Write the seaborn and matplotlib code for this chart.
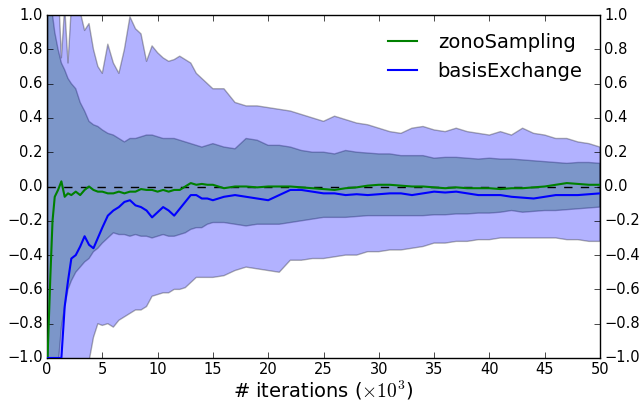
import numpy as np
import pandas as pd
import matplotlib
matplotlib.use("Agg")
import matplotlib.pyplot as plt
import seaborn as sns

# x positions (thousands of iterations)
x = [0.05, 0.3, 0.5, 0.7, 1.0, 1.3, 1.6, 1.9, 2.2, 2.6, 3.0, 3.4, 3.8, 4.2, 4.6,
     5.0, 5.5, 6.0, 6.5, 7.0, 7.5, 8.0, 8.5, 9.0, 9.5, 10.0, 10.5, 11.0, 11.5, 12.0,
     12.5, 13.0, 13.5, 14.0, 14.5, 15.0,
     16, 17, 18, 19, 20, 21, 22, 23, 24, 25, 26, 27, 28, 29, 30, 31, 32, 33, 34, 35,
     36, 37, 38, 39, 40, 41, 42, 43, 44, 45, 46, 47, 48, 49, 50]

zono_mean = [-1.0, -0.53, -0.2, -0.06, -0.02, 0.03, -0.06, -0.04, -0.05, -0.03, -0.05, -0.02, 0.0, -0.02, -0.03,
             -0.03, -0.04, -0.04, -0.03, -0.04, -0.03, -0.03, -0.015, -0.02, -0.02, -0.03, -0.02, -0.03, -0.02, -0.02,
             0.0, 0.02, 0.01, 0.015, 0.01, 0.01,
             -0.01, 0.0, 0.0, -0.005, 0.0, 0.0, 0.0, -0.005, -0.01, -0.015, -0.02, -0.01, -0.005, 0.005, 0.01, 0.01,
             0.005, 0.0, 0.0, -0.005, -0.01, -0.005, -0.01, -0.01, -0.01, -0.015, -0.01, -0.01, -0.005, 0.0, 0.01,
             0.02, 0.015, 0.01, 0.01]

zono_upper = [1.2, 1.1, 1.0, 0.9, 0.8, 0.72, 0.68, 0.63, 0.6, 0.57, 0.49, 0.44, 0.38, 0.36, 0.35,
              0.33, 0.31, 0.30, 0.28, 0.26, 0.28, 0.28, 0.29, 0.30, 0.30, 0.29, 0.28, 0.28, 0.28, 0.27,
              0.26, 0.25, 0.24, 0.23, 0.24, 0.25,
              0.23, 0.22, 0.28, 0.27, 0.24, 0.24, 0.23, 0.21, 0.20, 0.20, 0.19, 0.21, 0.20, 0.195, 0.19, 0.19,
              0.18, 0.18, 0.18, 0.165, 0.17, 0.17, 0.165, 0.16, 0.165, 0.16, 0.16, 0.155, 0.15, 0.145, 0.14,
              0.135, 0.14, 0.14, 0.135]

zono_lower = [-1.2, -1.2, -1.2, -1.1, -1.05, -0.82, -0.7, -0.6, -0.55, -0.5, -0.47, -0.44, -0.42, -0.38, -0.36,
              -0.33, -0.30, -0.27, -0.28, -0.28, -0.29, -0.28, -0.29, -0.29, -0.30, -0.29, -0.28, -0.29, -0.29, -0.28,
              -0.27, -0.25, -0.24, -0.24, -0.22, -0.21,
              -0.21, -0.22, -0.23, -0.22, -0.22, -0.22, -0.21, -0.20, -0.19, -0.18, -0.18, -0.18, -0.175, -0.17, -0.17,
              -0.17, -0.17, -0.17, -0.17, -0.165, -0.165, -0.16, -0.16, -0.155, -0.155, -0.15, -0.14, -0.15, -0.145,
              -0.14, -0.14, -0.135, -0.13, -0.125, -0.12]

basis_mean = [-1.0, -1.0, -1.0, -1.0, -1.0, -1.0, -0.7, -0.55, -0.42, -0.40, -0.35, -0.29, -0.34, -0.36, -0.30,
              -0.24, -0.17, -0.14, -0.12, -0.09, -0.08, -0.11, -0.12, -0.14, -0.18, -0.15, -0.12, -0.14, -0.17, -0.13,
              -0.09, -0.05, -0.05, -0.07, -0.07, -0.08,
              -0.06, -0.05, -0.06, -0.07, -0.08, -0.05, -0.02, -0.02, -0.03, -0.04, -0.04, -0.05, -0.045, -0.05, -0.045,
              -0.04, -0.04, -0.05, -0.04, -0.03, -0.035, -0.03, -0.04, -0.05, -0.05, -0.05, -0.06, -0.065, -0.07,
              -0.06, -0.05, -0.05, -0.05, -0.045, -0.04]

basis_upper = [1.5, 1.5, 1.4, 1.3, 1.2, 0.75, 1.05, 0.72, 1.05, 1.05, 1.02, 0.91, 0.95, 0.8, 0.7,
               0.66, 0.83, 0.72, 0.66, 0.8, 0.99, 0.92, 0.89, 0.73, 0.82, 0.78, 0.75, 0.73, 0.74, 0.76,
               0.74, 0.72, 0.66, 0.63, 0.6, 0.57,
               0.57, 0.49, 0.47, 0.47, 0.46, 0.45, 0.44, 0.42, 0.40, 0.38, 0.41, 0.39, 0.37, 0.36, 0.34, 0.32,
               0.31, 0.34, 0.35, 0.33, 0.32, 0.34, 0.32, 0.31, 0.30, 0.32, 0.30, 0.34, 0.31, 0.30, 0.28,
               0.28, 0.26, 0.25, 0.23]

basis_lower = [-1.5, -1.5, -1.5, -1.5, -1.5, -1.4, -1.3, -1.25, -1.2, -1.15, -1.1, -1.05, -1.02, -0.88, -0.80,
               -0.81, -0.80, -0.82, -0.78, -0.76, -0.74, -0.72, -0.72, -0.70, -0.64, -0.63, -0.62, -0.62, -0.60, -0.60,
               -0.59, -0.56, -0.53, -0.53, -0.53, -0.53,
               -0.52, -0.49, -0.47, -0.48, -0.49, -0.50, -0.43, -0.43, -0.42, -0.42, -0.41, -0.40, -0.40, -0.38, -0.38,
               -0.37, -0.37, -0.36, -0.35, -0.33, -0.33, -0.32, -0.32, -0.31, -0.31, -0.30, -0.30, -0.30, -0.30,
               -0.30, -0.30, -0.31, -0.31, -0.32, -0.32]

plt.style.use("classic")
plt.rcParams["font.family"] = ["DejaVu Sans"]

fig = plt.figure(figsize=(6.42, 4.01), dpi=100, facecolor="white")
ax = fig.add_axes([47 / 642, 1 - 358 / 401, 553 / 642, 343 / 401])
ax.set_facecolor("white")

ax.fill_between(x, zono_lower, zono_upper, facecolor=(0, 0.5, 0, 0.3),
                edgecolor=(0, 0, 0, 0.3), linewidth=1.0, zorder=1)
ax.fill_between(x, basis_lower, basis_upper, facecolor=(0, 0, 1, 0.3),
                edgecolor=(0, 0, 0, 0.3), linewidth=1.0, zorder=1)

ax.axhline(0, color="black", linestyle="--", linewidth=1.0, zorder=2)

df = pd.DataFrame({"x": x, "zono": zono_mean, "basis": basis_mean})
sns.lineplot(data=df, x="x", y="zono", color="green", linewidth=1.5,
             label="zonoSampling", ax=ax, zorder=3)
sns.lineplot(data=df, x="x", y="basis", color="blue", linewidth=1.5,
             label="basisExchange", ax=ax, zorder=3)

ax.set_xlim(0, 50)
ax.set_ylim(-1, 1)
ax.set_xticks([0, 5, 10, 15, 20, 25, 30, 35, 40, 45, 50])
ax.set_yticks([-1.0, -0.8, -0.6, -0.4, -0.2, 0.0, 0.2, 0.4, 0.6, 0.8, 1.0])
ax.set_yticklabels(["\u22121.0", "\u22120.8", "\u22120.6", "\u22120.4", "\u22120.2",
                    "0.0", "0.2", "0.4", "0.6", "0.8", "1.0"])
ax.tick_params(axis="both", which="both", direction="in", top=True, right=True,
               labelright=True, labelsize=10.5, length=4, pad=3)
ax.tick_params(axis="x", pad=3)
ax.set_ylabel("")
ax.set_xlabel(r"# iterations ($\times 10^3$)", fontsize=14, labelpad=1)

leg = ax.legend(loc="upper right", frameon=False, fontsize=14, handlelength=2.1,
                handletextpad=0.75, borderaxespad=0.5, labelspacing=0.55)

fig.savefig("out.png", dpi=100, facecolor="white")
